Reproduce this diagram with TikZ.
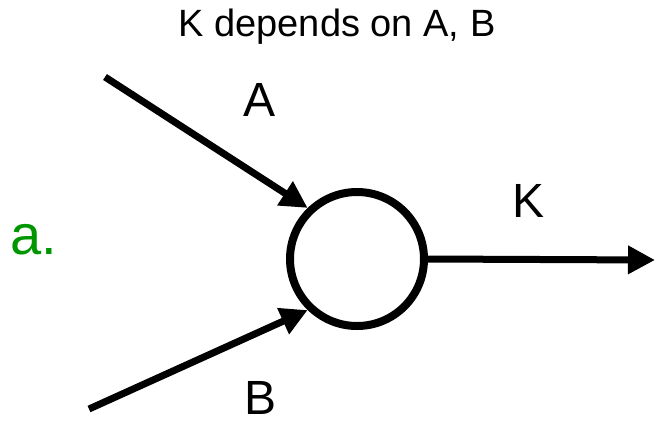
\documentclass[tikz,border=0pt]{standalone}
\usepackage{fontspec}
\setmainfont{Liberation Sans}
\usetikzlibrary{arrows.meta}
\definecolor{labelgreen}{RGB}{0,150,0}
\tikzset{
  knot circle/.style={circle, draw, line width=8pt, minimum size=134pt, inner sep=0pt},
  input line/.style={line width=7pt, -{Triangle[length=27pt, width=27pt]}},
  edge label/.style={font=\fontsize{48}{48}\selectfont, inner sep=0pt, text depth=0pt},
}
\begin{document}
\begin{tikzpicture}[x=1pt, y=-1pt]
  \useasboundingbox (0,0) rectangle (656,424);
  \node[font=\fontsize{38}{38}\selectfont, inner sep=0pt] (title) at (337,27) {K depends on A, B};
  \node[font=\fontsize{56}{56}\selectfont, text=labelgreen, inner sep=0pt] (tag) at (34,240) {a.};
  \node[knot circle] (knot) at (357,259) {};
  \coordinate (Ain) at (105,77);
  \coordinate (Bin) at (89,409);
  \coordinate (Kout) at (655,260);
  \draw[input line] (Ain) -- (knot.134);
  \draw[input line] (Bin) -- (knot.226);
  \draw[input line] (knot.east) -- (Kout);
  \node[edge label] (Alabel) at (260,100) {A};
  \node[edge label] (Blabel) at (261,398) {B};
  \node[edge label] (Klabel) at (529,201) {K};
\end{tikzpicture}
\end{document}
